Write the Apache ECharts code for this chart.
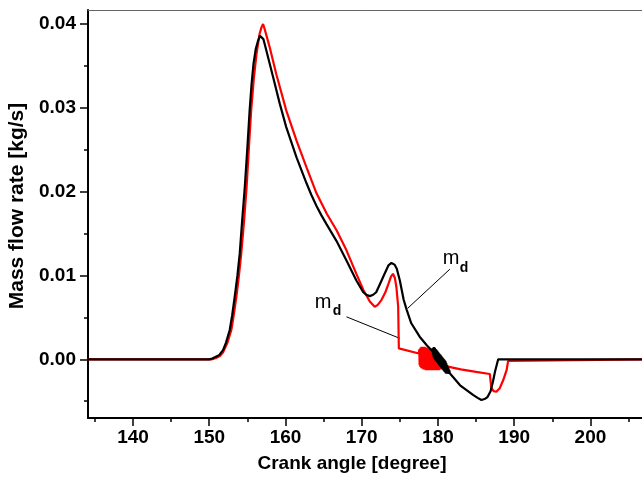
<!DOCTYPE html>
<html>
<head>
<meta charset="utf-8">
<script src="https://cdn.jsdelivr.net/npm/echarts@6/dist/echarts.min.js"></script>
<style>
  html, body { margin: 0; padding: 0; background: #fff; }
  #chart { width: 642px; height: 479px; }
</style>
</head>
<body>
<div id="chart"></div>
<script>
// Crank angle range shown and tick positions
const angleMin = 134.1;
const angleMax = 206.76;
const flowMin = -0.007;
const flowMax = 0.04167;
const angleMajorTicks = [140, 150, 160, 170, 180, 190, 200];
const angleMinorTicks = [135, 145, 155, 165, 175, 185, 195, 205];
const flowMajorTicks = [0.00, 0.01, 0.02, 0.03, 0.04];
const flowMinorTicks = [-0.005, 0.005, 0.015, 0.025, 0.035];

// Black curve: crank angle [deg] and mass flow rate [kg/s]
const blackAngle = [
  134, 150.0, 150.4, 150.72, 151.3, 151.81, 152.2, 152.69, 153.0, 153.35,
  153.7, 154.0, 154.3, 154.66, 155.0, 155.3, 155.55, 155.8, 156.1, 156.4,
  156.65, 156.85, 157.1, 157.5, 158.4, 159.25, 160.1, 161.45, 162.76, 163.4,
  164.07, 164.7, 165.4, 166.7, 168.0, 169.3, 170.2, 170.6, 171.06, 171.5,
  171.9, 172.5, 173.0, 173.5, 173.9, 174.3, 174.6, 175.0, 175.5, 175.9,
  176.5, 177.6, 178.5, 179.25,
  // pressure-wave oscillation band
  179.30, 179.35, 179.40, 179.45, 179.50, 179.55, 179.60, 179.65, 179.70, 179.75,
  179.80, 179.85, 179.90, 179.95, 180.00, 180.05, 180.10, 180.15, 180.20, 180.25,
  180.30, 180.35, 180.40, 180.45, 180.50, 180.55, 180.60, 180.65, 180.70, 180.75,
  180.80, 180.85, 180.90, 180.95, 181.00, 181.05, 181.10, 181.15, 181.20, 181.25,
  181.30, 181.35, 181.40, 181.45, 181.50, 181.55, 181.60,
  182.9, 184.6, 185.2, 185.7, 186.2, 186.5, 186.9, 187.2, 187.5, 187.9, 207
];
const blackFlow = [
  0, 0, 0.0001, 0.00024, 0.0005, 0.0011, 0.0020, 0.0035, 0.0052, 0.0075,
  0.0100, 0.0126, 0.0163, 0.0205, 0.0252, 0.0297, 0.0328, 0.0352, 0.0370, 0.0380,
  0.0386, 0.0388, 0.0382, 0.0368, 0.0336, 0.0305, 0.0277, 0.0241, 0.0210, 0.0196,
  0.0183, 0.0172, 0.0161, 0.0141, 0.0118, 0.0094, 0.0080, 0.0077, 0.00754, 0.0077,
  0.0080, 0.0092, 0.0102, 0.0112, 0.0115, 0.0113, 0.0108, 0.0094, 0.0071, 0.0059,
  0.0043, 0.0027, 0.0017, 0.0010,
  0.0013, 0.00054, 0.00139, 0.00023, 0.00147, 0.00002, 0.00136, -0.0001, 0.00124, -0.00021,
  0.00113, -0.00033, 0.00102, -0.00044, 0.0009, -0.00056, 0.00079, -0.00067, 0.00067, -0.00078,
  0.00056, -0.0009, 0.00045, -0.00101, 0.00033, -0.00113, 0.00022, -0.00124, 0.0001, -0.00136,
  -0.00001, -0.00147, -0.00013, -0.00158, -0.00024, -0.0017, -0.00046, -0.00171, -0.00067, -0.00173,
  -0.00088, -0.00174, -0.0011, -0.00175, -0.00131, -0.00167, -0.0016,
  -0.0031, -0.00425, -0.0046, -0.00485, -0.0047, -0.0045, -0.0038, -0.0027, -0.0014, 0, 0
];

// Red curve: crank angle [deg] and mass flow rate [kg/s]
const redAngle = [
  134, 150.3, 150.7, 151.0, 151.4, 151.8, 152.4, 152.9, 153.2, 153.57,
  153.9, 154.2, 154.55, 154.9, 155.2, 155.5, 155.85, 156.2, 156.6, 156.85,
  157.06, 157.3, 157.94, 158.8, 160.1, 161.45, 162.76, 164.07, 165.4, 166.7,
  168.0, 169.3, 170.2, 171.06, 171.7, 172.1, 172.6, 173.1, 173.5, 173.85,
  174.1, 174.35, 174.55, 174.78, 174.87, 175.13, 177.5,
  // pressure-wave oscillation band
  177.55, 177.60, 177.65, 177.70, 177.75, 177.80, 177.85, 177.90, 177.95, 178.00,
  178.05, 178.10, 178.15, 178.20, 178.25, 178.30, 178.35, 178.40, 178.45, 178.50,
  178.55, 178.60, 178.65, 178.70, 178.75, 178.80, 178.85, 178.90, 178.95, 179.00,
  179.05, 179.10, 179.15, 179.20, 179.25, 179.30, 179.35, 179.40, 179.45, 179.50,
  179.55, 179.60, 179.65, 179.70, 179.75, 179.80, 179.85, 179.90, 179.95, 180.00,
  180.05, 180.10, 180.15, 180.20, 180.25, 180.30, 180.35, 180.40, 180.45, 180.50,
  180.55, 180.60, 180.65, 180.70, 180.75, 180.80, 180.85, 180.90, 180.95,
  181.3, 183.0, 185.0, 186.8, 187.0, 187.3, 187.65, 188.1, 188.55, 189.0,
  189.2, 189.35, 207
];
const redFlow = [
  0, 0, 0.0001, 0.0002, 0.0004, 0.0008, 0.0020, 0.0035, 0.0052, 0.0075,
  0.0100, 0.0126, 0.0163, 0.0205, 0.0252, 0.0297, 0.0335, 0.0364, 0.0388, 0.0396,
  0.0400, 0.0393, 0.0372, 0.0340, 0.0297, 0.0261, 0.0229, 0.0198, 0.0174, 0.0154,
  0.0130, 0.0102, 0.0083, 0.0069, 0.00626, 0.0065, 0.0071, 0.0080, 0.0090, 0.0099,
  0.0102, 0.0097, 0.0086, 0.0063, 0.0013, 0.0012, 0.0007,
  0.0012, -0.0007, 0.0013, -0.0009, 0.0014, -0.0010, 0.0015, -0.0011, 0.0015, -0.0011,
  0.0015, -0.0012, 0.0015, -0.0012, 0.0015, -0.0012, 0.0014, -0.0013, 0.0014, -0.0013,
  0.0014, -0.0013, 0.0013, -0.0013, 0.0013, -0.0013, 0.0013, -0.0013, 0.0012, -0.0013,
  0.0012, -0.0013, 0.0012, -0.0013, 0.0011, -0.0013, 0.0011, -0.0013, 0.0010, -0.0013,
  0.0010, -0.0013, 0.0009, -0.0013, 0.0009, -0.0013, 0.0008, -0.0013, 0.0007, -0.0013,
  0.0006, -0.0013, 0.0005, -0.0012, 0.0004, -0.0012, 0.0003, -0.0012, 0.0002, -0.0011,
  0.0000, -0.0011, -0.0001, -0.0010, -0.0003, -0.0010, -0.0005, -0.0009, -0.0007,
  -0.00088, -0.0012, -0.0015, -0.00175, -0.0034, -0.0038, -0.00387, -0.00345, -0.0025, -0.0013,
  -0.0002, 0, 0
];

// Curve labels with leader lines (data coordinates)
const curveLabels = [
  { m: [180.64, 0.01206], d: [182.87, 0.01082], from: [181.56, 0.01075], to: [176.01, 0.00607] },
  { m: [163.84, 0.00676], d: [166.2, 0.00569], from: [168.0, 0.00507], to: [175.0, 0.0025] }
];

const FONT = '"Liberation Sans", Arial, sans-serif';
const toPairs = (xs, ys) => xs.map((x, i) => [x, ys[i]]);

const chart = echarts.init(document.getElementById('chart'), null, { renderer: 'canvas' });

const labelStyle = { fontFamily: FONT, fontSize: 19, fontWeight: 'bold', color: '#000' };

chart.setOption({
  animation: false,
  backgroundColor: '#fff',
  grid: { left: 88, right: 0, top: 10, bottom: 61, containLabel: false, outerBoundsMode: 'none' },
  xAxis: [
    {
      type: 'value', min: angleMin, max: angleMax, position: 'bottom',
      axisLine: { show: true, onZero: false, lineStyle: { color: '#000', width: 2 } },
      axisTick: { show: true, customValues: angleMajorTicks, length: 8, lineStyle: { color: '#000', width: 1.5 } },
      axisLabel: Object.assign({ customValues: angleMajorTicks, margin: 10, formatter: v => String(Math.round(v)) }, labelStyle),
      splitLine: { show: false },
      name: 'Crank angle [degree]', nameLocation: 'middle', nameGap: 36,
      nameTextStyle: Object.assign({ padding: [0, 26, 0, 0] }, labelStyle)
    },
    {
      type: 'value', min: angleMin, max: angleMax, position: 'bottom',
      axisLine: { show: false, onZero: false },
      axisTick: { show: true, customValues: angleMinorTicks, length: 4, lineStyle: { color: '#000', width: 1.5 } },
      axisLabel: { show: false }, splitLine: { show: false }
    },
    {
      type: 'value', min: angleMin, max: angleMax, position: 'top',
      axisLine: { show: true, onZero: false, lineStyle: { color: '#666', width: 1 } },
      axisTick: { show: false }, axisLabel: { show: false }, splitLine: { show: false }
    }
  ],
  yAxis: [
    {
      type: 'value', min: flowMin, max: flowMax, position: 'left',
      axisLine: { show: true, onZero: false, lineStyle: { color: '#000', width: 2 } },
      axisTick: { show: true, customValues: flowMajorTicks, length: 8, lineStyle: { color: '#000', width: 1.5 } },
      axisLabel: Object.assign({ customValues: flowMajorTicks, margin: 12, formatter: v => v.toFixed(2) }, labelStyle),
      splitLine: { show: false },
      name: 'Mass flow rate [kg/s]', nameLocation: 'middle', nameGap: 57,
      nameTextStyle: Object.assign({}, labelStyle, { fontSize: 21, padding: [0, 0, 0, 16] })
    },
    {
      type: 'value', min: flowMin, max: flowMax, position: 'left',
      axisLine: { show: false, onZero: false },
      axisTick: { show: true, customValues: flowMinorTicks, length: 4, lineStyle: { color: '#000', width: 1.5 } },
      axisLabel: { show: false }, splitLine: { show: false }
    }
  ],
  series: [
    {
      name: 'red', type: 'line', xAxisIndex: 0, yAxisIndex: 0,
      data: toPairs(redAngle, redFlow), showSymbol: false, symbol: 'none',
      lineStyle: { color: '#ff0000', width: 2.2 }, clip: true
    },
    {
      name: 'black', type: 'line', xAxisIndex: 0, yAxisIndex: 0,
      data: toPairs(blackAngle, blackFlow), showSymbol: false, symbol: 'none',
      lineStyle: { color: '#000000', width: 2.2 }, clip: true
    }
  ]
});

// Place the m_d labels and their leader lines through the axes' scales
const px = p => chart.convertToPixel({ xAxisIndex: 0, yAxisIndex: 0 }, p);
const graphics = [];
curveLabels.forEach(lab => {
  const m = px(lab.m), d = px(lab.d), a = px(lab.from), b = px(lab.to);
  graphics.push({
    type: 'line', silent: true,
    shape: { x1: a[0], y1: a[1], x2: b[0], y2: b[1] },
    style: { stroke: '#000', lineWidth: 1 }
  });
  graphics.push({
    type: 'text', x: m[0], y: m[1],
    style: { text: 'm', font: '20px ' + FONT, fill: '#000', align: 'left', verticalAlign: 'middle' }
  });
  graphics.push({
    type: 'text', x: d[0], y: d[1],
    style: { text: 'd', font: 'bold 14px ' + FONT, fill: '#000', align: 'left', verticalAlign: 'middle' }
  });
});
chart.setOption({ graphic: graphics });
</script>
</body>
</html>
